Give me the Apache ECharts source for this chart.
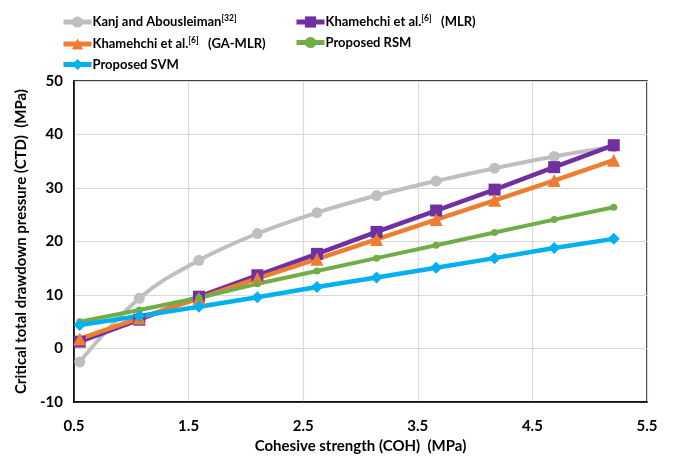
<!DOCTYPE html>
<html>
<head>
<meta charset="utf-8">
<script src="https://cdn.jsdelivr.net/npm/echarts@6/dist/echarts.min.js"></script>
<style>html,body{margin:0;padding:0;background:#fff}#c{width:673px;height:459px}</style>
</head>
<body>
<div id="c"></div>
<script>
const xValues = [0.55, 1.07, 1.59, 2.10, 2.62, 3.14, 3.66, 4.17, 4.69, 5.21];
const kanj = [-2.5, 9.4, 16.5, 21.5, 25.4, 28.6, 31.3, 33.7, 35.9, 37.7];
const mlr = [1.3, 5.4, 9.7, 13.7, 17.7, 21.8, 25.8, 29.7, 33.9, 38.0];
const gamlr = [1.8, 5.7, 9.4, 13.1, 16.7, 20.4, 24.1, 27.7, 31.4, 35.2];
const rsm = [5.0, 7.2, 9.5, 12.1, 14.5, 16.9, 19.3, 21.7, 24.1, 26.4];
const svm = [4.4, 6.1, 7.8, 9.6, 11.5, 13.3, 15.1, 16.9, 18.8, 20.5];
const xTicks = [0.5, 1.5, 2.5, 3.5, 4.5, 5.5];
const yTicks = [-10, 0, 10, 20, 30, 40, 50];

const names = ['kanj', 'mlr', 'gamlr', 'rsm', 'svm'];
const labels = {
  kanj: 'Kanj and Abousleiman{sup|[32]}',
  mlr: 'Khamehchi et al.{sup|[6]}   (MLR)',
  gamlr: 'Khamehchi et al.{sup|[6]}   (GA-MLR)',
  rsm: 'Proposed RSM',
  svm: 'Proposed SVM'
};
const FONT = 'Lato';
const pair = arr => arr.map((v, i) => [xValues[i], v]);

const legendPos = {
  kanj: [61, 14], mlr: [294, 14],
  gamlr: [61, 36], rsm: [294, 36],
  svm: [61, 58]
};
const legends = names.map(n => ({
  data: [n],
  left: legendPos[n][0], top: legendPos[n][1],
  padding: 0,
  itemWidth: 28, itemHeight: 14, itemGap: 0,
  lineStyle: { width: 5 },
  formatter: nm => labels[nm],
  textStyle: {
    fontFamily: FONT, fontWeight: 'bold', fontSize: 13, color: '#000', padding: [0,0,0,-4],
    rich: { sup: { fontFamily: FONT, fontWeight: 'bold', fontSize: 8.5, color: '#000', padding: [0,0,7,0] } }
  }
}));

function ser(name, data, color, symbol, size, width, smooth) {
  return {
    name, type: 'line', data: pair(data), smooth: smooth || false,
    symbol, symbolSize: size, showSymbol: true,
    lineStyle: { color, width },
    itemStyle: { color },
    emphasis: { disabled: true }, animation: false
  };
}

const chart = echarts.init(document.getElementById('c'));
chart.setOption({
  animation: false,
  legend: legends,
  grid: { left: 74, top: 81, right: 26, bottom: 52, show: true, borderColor: '#000', borderWidth: 1.5, backgroundColor: 'transparent' },
  xAxis: {
    type: 'value', min: xTicks[0], max: xTicks[xTicks.length - 1], interval: 1,
    name: 'Cohesive strength (COH)  (MPa)', nameLocation: 'middle', nameGap: 32,
    nameTextStyle: { fontFamily: FONT, fontWeight: 'bold', fontSize: 15, color: '#000' },
    axisLine: { show: true, onZero: false, lineStyle: { color: '#000', width: 1.5 } },
    axisTick: { show: false },
    axisLabel: { fontFamily: FONT, fontWeight: 'bold', fontSize: 15, color: '#000', margin: 17 },
    splitLine: { show: true, lineStyle: { color: '#d9d9d9', width: 1.2 } }
  },
  yAxis: {
    type: 'value', min: yTicks[0], max: yTicks[yTicks.length - 1], interval: 10,
    name: 'Critical total drawdown pressure (CTD)  (MPa)', nameLocation: 'middle', nameGap: 44,
    nameTextStyle: { fontFamily: FONT, fontWeight: 'bold', fontSize: 15, color: '#000' },
    axisLine: { show: true, onZero: false, lineStyle: { color: '#000', width: 1.5 } },
    axisTick: { show: false },
    axisLabel: { fontFamily: FONT, fontWeight: 'bold', fontSize: 15, color: '#000', margin: 11 },
    splitLine: { show: true, lineStyle: { color: '#d9d9d9', width: 1.2 } }
  },
  series: [
    ser('kanj', kanj, '#BFBFBF', 'circle', 11, 4, 0.4),
    ser('mlr', mlr, '#7030A0', 'rect', 12, 4.5),
    ser('gamlr', gamlr, '#ED7D31', 'triangle', 13, 4.5),
    ser('rsm', rsm, '#70AD47', 'circle', 7, 4),
    ser('svm', svm, '#00B0F0', 'diamond', 12, 4.5)
  ]
});
</script>
</body>
</html>
